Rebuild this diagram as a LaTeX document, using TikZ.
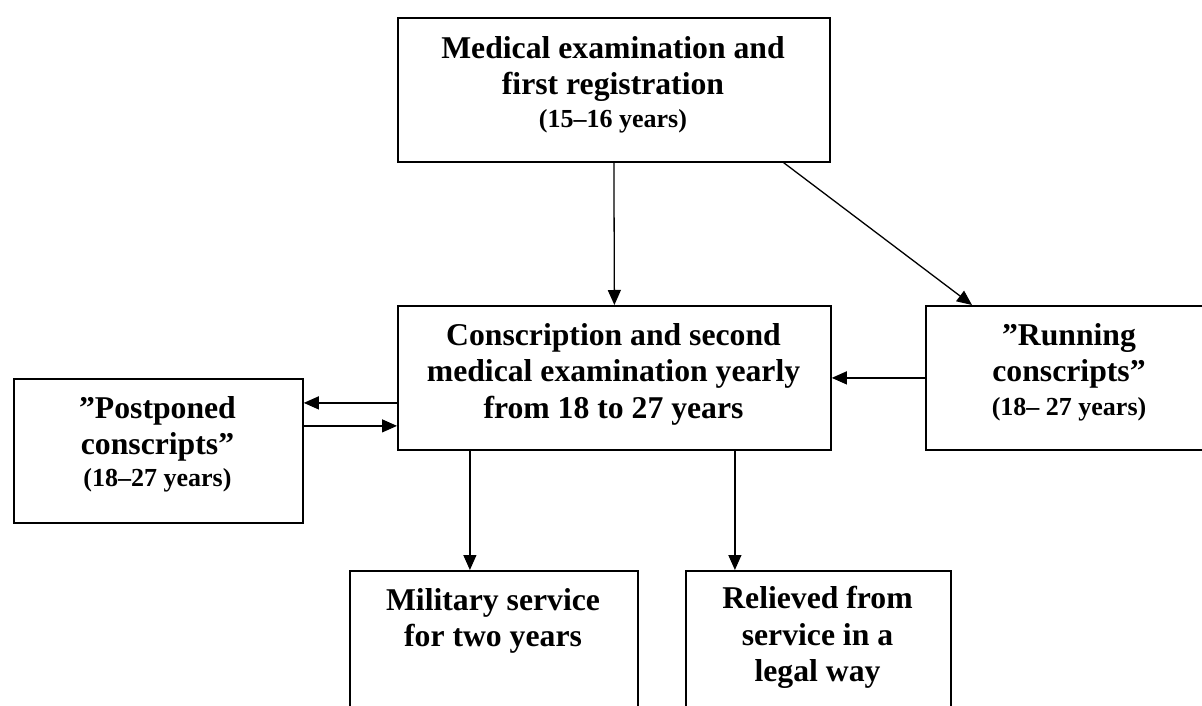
\documentclass[tikz,border=0pt]{standalone}
\usepackage{fontspec}
\setmainfont{Liberation Serif}
\usetikzlibrary{arrows.meta}
\newcommand\mybig{\fontsize{31.7}{36.5}\selectfont}
\newcommand\mysmall{\fontsize{26}{30}\selectfont}
\begin{document}
\begin{tikzpicture}[x=1pt,y=-1pt,
  box/.style={draw, line width=1.8pt, inner sep=0pt, anchor=north west},
  txt/.style={inner sep=0pt, anchor=north, align=center, font=\bfseries\mybig},
  arr/.style={line width=1.3pt, -{Triangle[length=15pt,width=13pt]}}]
\clip (0,0) rectangle (1202,706);
\fill[white] (0,0) rectangle (1202,706);
% boxes
\node[box, minimum width=432pt, minimum height=144pt] (A) at (397,17) {};
\node[box, minimum width=433pt, minimum height=144pt] (B) at (397,305) {};
\node[box, minimum width=289pt, minimum height=144pt] (P) at (13,378) {};
\node[box, minimum width=288pt, minimum height=144pt] (R) at (925,305) {};
\node[box, minimum width=288pt, minimum height=200pt] (M) at (349,570) {};
\node[box, minimum width=265pt, minimum height=200pt] (L) at (685,570) {};
% texts
\node[txt] (At) at (613,36) {Medical examination and\\first registration\\[-3.5pt]{\mysmall (15–16 years)}};
\node[txt] (Bt) at (613.5,323) {Conscription and second\\medical examination yearly\\from 18 to 27 years};
\node[txt] (Pt) at (157.5,396) {”Postponed\\conscripts”\\[-5pt]{\mysmall (18–27 years)}};
\node[txt] (Rt) at (1069,323) {”Running\\conscripts”\\[-3pt]{\mysmall (18– 27 years)}};
\node[txt] (Mt) at (493,588) {Military service\\for two years};
\node[txt] (Lt) at (817.5,586) {Relieved from\\service in a\\legal way};
% connectors
\draw[arr] (A.south) -- (B.north);
\draw[arr] ([xshift=-47pt]A.south east) -- ([xshift=47pt]R.north west);
\draw[arr] (R.west) -- (B.east);
\draw[arr] ([yshift=-25pt]B.west) -- ([yshift=-25pt]B.west -| P.east);
\draw[arr] ([yshift=-48pt]B.west -| P.east) -- ([yshift=-48pt]B.west);
\draw[arr] ([xshift=-144.5pt]B.south) -- ([xshift=-144.5pt]B.south |- M.north);
\draw[arr] ([xshift=120.5pt]B.south) -- ([xshift=120.5pt]B.south |- L.north);
\end{tikzpicture}
\end{document}
